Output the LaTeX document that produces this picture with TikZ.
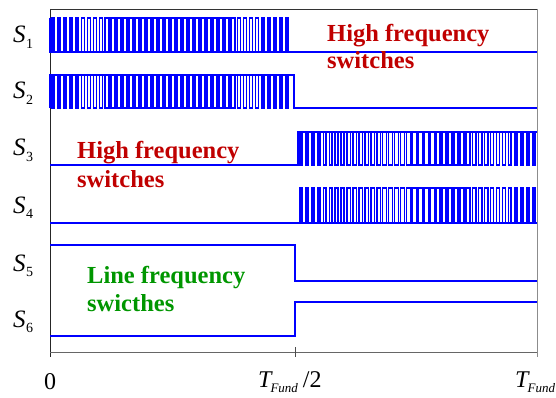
\documentclass[tikz,border=0pt]{standalone}
\usepackage{fontspec}
\setmainfont{Liberation Serif}
\definecolor{sigblue}{RGB}{0,0,255}
\definecolor{hfred}{RGB}{192,0,0}
\definecolor{lfgreen}{RGB}{0,150,0}
\tikzset{
  sig/.style={draw=sigblue, line width=1.7pt, line join=miter},
  frameline/.style={line width=0.9pt},
  lbl/.style={inner sep=0pt, anchor=base west},
  note/.style={inner sep=0pt, anchor=base west, font=\fontsize{24.5}{26}\selectfont\bfseries},
}
% S_k label: italic S with an upright subscript digit
\newcommand{\swname}[1]{{\fontsize{25}{25}\selectfont\itshape S}\kern0.5pt\raisebox{-5.5pt}{\fontsize{14}{14}\selectfont #1}}
\newcommand{\tfund}{{\fontsize{24}{24}\selectfont\itshape T}\kern-1pt\raisebox{-5pt}{\fontsize{13}{13}\selectfont\itshape Fund}}
\begin{document}
\begin{tikzpicture}[x=1pt,y=-1pt]
\useasboundingbox (0,0) rectangle (556,398);
\clip (0,0) rectangle (556,398);

% frame and time axis
\draw[frameline, draw=black!85] (50,9) -- (50,357);
\draw[frameline, draw=black!80] (50,9) -- (537,9);
\draw[frameline, draw=black!45] (537,9) -- (537,357);
\draw[frameline, draw=black!60] (50,352) -- (537,352);
\draw[frameline, draw=black!70] (295,347) -- (295,357);

% S1 / S2 : PWM during the first half period
\draw[sig] (50,18) -- (50,52) -- (537,52);
\draw[sig] (50,108) -- (50,75) -- (294,75) -- (294,108) -- (537,108);
\foreach \k in {0,...,39}{
  \pgfmathsetmacro{\d}{0.3+0.4*sin(180*(\k+0.5)/40)}
  \pgfmathsetmacro{\xa}{50+(\k+0.5-\d/2)*6.0}
  \pgfmathsetmacro{\xb}{50+(\k+0.5+\d/2)*6.0}
  \draw[sig] (\xa,52) -- (\xa,18) -- (\xb,18) -- (\xb,52);
  \draw[sig] (\xa,75) -- (\xa,108) -- (\xb,108) -- (\xb,75);
}

% S3 / S4 : PWM during the second half period
\draw[sig] (50,165) -- (298,165) -- (298,132) -- (537,132);
\draw[sig] (50,223) -- (537,223);
\foreach \k in {0,...,39}{
  \pgfmathsetmacro{\d}{0.3+0.4*sin(180*(\k+0.5)/40)}
  \pgfmathsetmacro{\xa}{298+(\k+0.5-\d/2)*5.97}
  \pgfmathsetmacro{\xb}{298+(\k+0.5+\d/2)*5.97}
  \draw[sig] (\xa,132) -- (\xa,165) -- (\xb,165) -- (\xb,132);
  \draw[sig] (\xa,223) -- (\xa,188) -- (\xb,188) -- (\xb,223);
}

% S5 / S6 : line frequency switching
\draw[sig] (50,245) -- (295,245) -- (295,281) -- (537,281);
\draw[sig] (50,336) -- (295,336) -- (295,302) -- (537,302);

% switch names
\node[lbl] (n1) at (13,43)  {\swname{1}};
\node[lbl] (n2) at (13,99)  {\swname{2}};
\node[lbl] (n3) at (13,156) {\swname{3}};
\node[lbl] (n4) at (13,213) {\swname{4}};
\node[lbl] (n5) at (13,271) {\swname{5}};
\node[lbl] (n6) at (13,327) {\swname{6}};

% annotations
\node[note, text=hfred] (hf1a) at (327,42) {High frequency};
\node[note, text=hfred] (hf1b) at (327,69) {switches};
\node[note, text=hfred] (hf2a) at (77,158) {High frequency};
\node[note, text=hfred] (hf2b) at (77,187) {switches};
\node[note, text=lfgreen] (lfa) at (87,283) {Line frequency};
\node[note, text=lfgreen] (lfb) at (87,311) {swicthes};

% time axis labels
\node[inner sep=0pt, anchor=base] (t0) at (50,389) {\fontsize{24}{24}\selectfont 0};
\node[lbl] (th) at (258,387) {\tfund\hspace{5pt}{\fontsize{24}{24}\selectfont /2}};
\node[lbl] (tf) at (515,387) {\tfund};
\end{tikzpicture}
\end{document}
